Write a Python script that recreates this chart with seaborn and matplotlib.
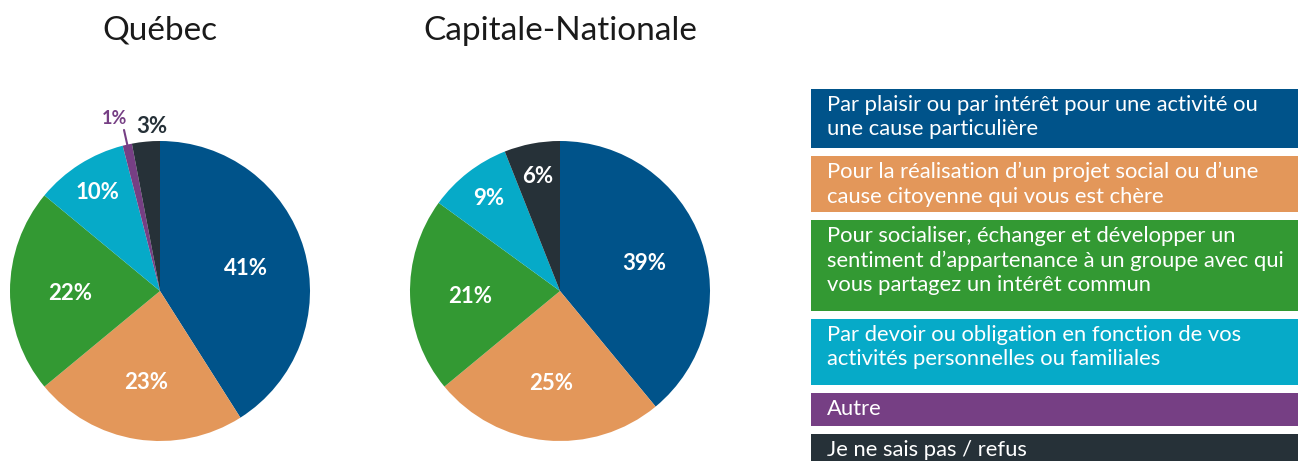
import numpy as np
import matplotlib.pyplot as plt
from matplotlib.patches import Rectangle
import seaborn as sns

# data
categories = [
    "Par plaisir ou par intérêt pour une activité ou\nune cause particulière",
    "Pour la réalisation d\u2019un projet social ou d\u2019une\ncause citoyenne qui vous est chère",
    "Pour socialiser, échanger et développer un\nsentiment d\u2019appartenance à un groupe avec qui\nvous partagez un intérêt commun",
    "Par devoir ou obligation en fonction de vos\nactivités personnelles ou familiales",
    "Autre",
    "Je ne sais pas / refus",
]
quebec = [41, 23, 22, 10, 1, 3]
capitale = [39, 25, 21, 9, 0, 6]
titles = ["Québec", "Capitale-Nationale"]
palette = ["#00538a", "#e3975a", "#339933", "#06aac8", "#763f84", "#263138"]

sns.set_theme(style="white")
plt.rcParams['font.family'] = ['Lato', 'DejaVu Sans']

W, H = 1298, 461
fig = plt.figure(figsize=(W / 100, H / 100), dpi=100)
fig.patch.set_facecolor("white")


def draw_pie(cx, cy, r, values, title):
    ax = fig.add_axes([(cx - r) / W, (H - cy - r) / H, 2 * r / W, 2 * r / H])
    wedges, _ = ax.pie(values, colors=palette, startangle=90, counterclock=False,
                       wedgeprops=dict(linewidth=0))
    ax.set_xlim(-1, 1)
    ax.set_ylim(-1, 1)
    ax.set_aspect("equal")
    ax.axis("off")
    for w, v, c in zip(wedges, values, palette):
        if v == 0:
            continue
        ang = np.deg2rad((w.theta1 + w.theta2) / 2)
        ca, sa = np.cos(ang), np.sin(ang)
        if v >= 12:
            ax.text(0.6 * ca, 0.6 * sa - 0.02, f"{v}%", ha="center", va="center",
                    color="white", fontsize=16, fontweight="bold")
        elif v >= 5:
            ax.text(0.78 * ca, 0.78 * sa, f"{v}%", ha="center", va="center",
                    color="white", fontsize=16, fontweight="bold")
        elif v >= 2:
            ax.text(1.1 * ca + 0.05, 1.1 * sa, f"{v}%", ha="center", va="center",
                    color=c, fontsize=16, fontweight="bold")
        else:
            ax.plot([0.98 * ca, 1.1 * ca], [0.98 * sa, 1.1 * sa], color=c, lw=1.5,
                    clip_on=False)
            ax.text(1.2 * ca - 0.04, 1.18 * sa, f"{v}%", ha="center", va="center",
                    color=c, fontsize=13, fontweight="bold")
    fig.text(cx / W, 1 - 31 / H, title, ha="center", va="center",
             fontsize=24, color="#1a1a1a")


draw_pie(160, 291, 150, quebec, titles[0])
draw_pie(560, 291, 150, capitale, titles[1])

# legend made of coloured boxes
lg = fig.add_axes([811 / W, 0, (W - 811) / W, 1])
lg.set_xlim(811, W)
lg.set_ylim(H, 0)
lg.axis("off")
box_tops = [89, 156, 220, 319, 393, 434]
box_heights = [59, 56, 91, 66, 33, 40]
for label, c, top, hgt in zip(categories, palette, box_tops, box_heights):
    lg.add_patch(Rectangle((811, top), W - 811, hgt, color=c, lw=0, clip_on=False))
    lg.text(827, top + 6, label, ha="left", va="top", color="white",
            fontsize=15.8, linespacing=1.27, clip_on=True)

fig.savefig("out.png", dpi=100, facecolor="white")
